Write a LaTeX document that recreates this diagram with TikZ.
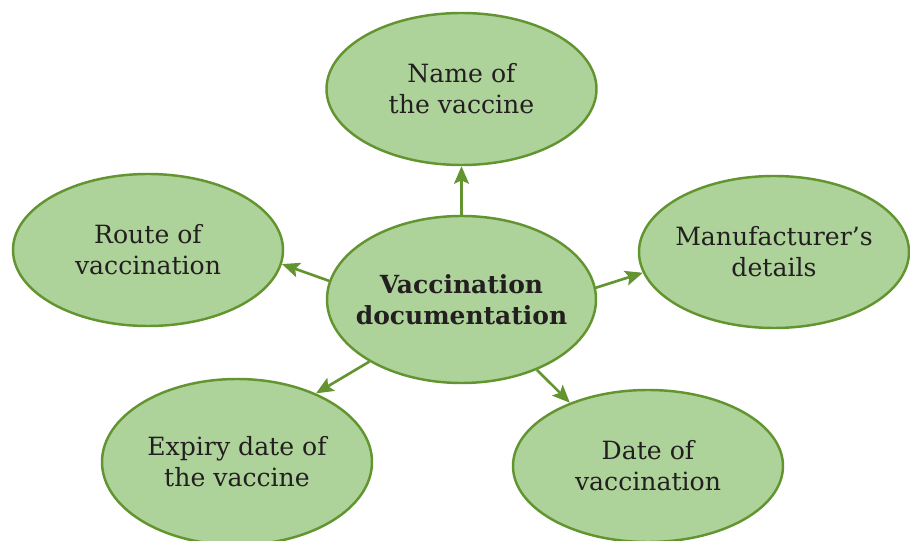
\documentclass[tikz,border=0pt]{standalone}
\usepackage{fontspec}
\setmainfont{DejaVu Serif}
\usetikzlibrary{shapes.geometric,arrows.meta}
\definecolor{leafgreen}{RGB}{174,211,154}
\definecolor{stemgreen}{RGB}{98,148,48}
\definecolor{inkgray}{RGB}{35,31,32}
\tikzset{
  bubble/.style={shape=ellipse,draw=stemgreen,fill=leafgreen,line width=1.4pt,
    minimum width=5.4cm,minimum height=3.04cm,align=center,
    inner xsep=-0.3cm,inner ysep=0pt,
    text=inkgray,font=\fontsize{14.3}{17.6}\selectfont},
  link/.style={draw=stemgreen,line width=1.5pt,-{Stealth[length=10pt,width=8.5pt,inset=2pt]}}
}
\begin{document}
\begin{tikzpicture}
  \useasboundingbox (0,0) rectangle (18.2,10.82);

  \node[bubble,minimum width=5.38cm,minimum height=3.34cm,font=\fontsize{14.2}{17.6}\selectfont\bfseries] (doc) at (9.23,4.83) {Vaccination\\documentation};

  \node[bubble] (name) at (9.23,9.04) {Name of\\the vaccine};
  \node[bubble] (route) at (2.96,5.82) {Route of\\vaccination};
  \node[bubble] (maker) at (15.48,5.78) {Manufacturer’s\\details};
  \node[bubble,minimum height=3.32cm] (expiry) at (4.74,1.58) {Expiry date of\\the vaccine};
  \node[bubble] (date) at (12.96,1.50) {Date of\\vaccination};

  \draw[link] (doc.90) -- (name.270);
  \draw[link] (doc.172) -- (route.-6);
  \draw[link] (doc.5) -- (maker.-171);
  \draw[link] (doc.214) -- (expiry.41);
  \draw[link] (doc.-43) -- (date.141);
\end{tikzpicture}
\end{document}
